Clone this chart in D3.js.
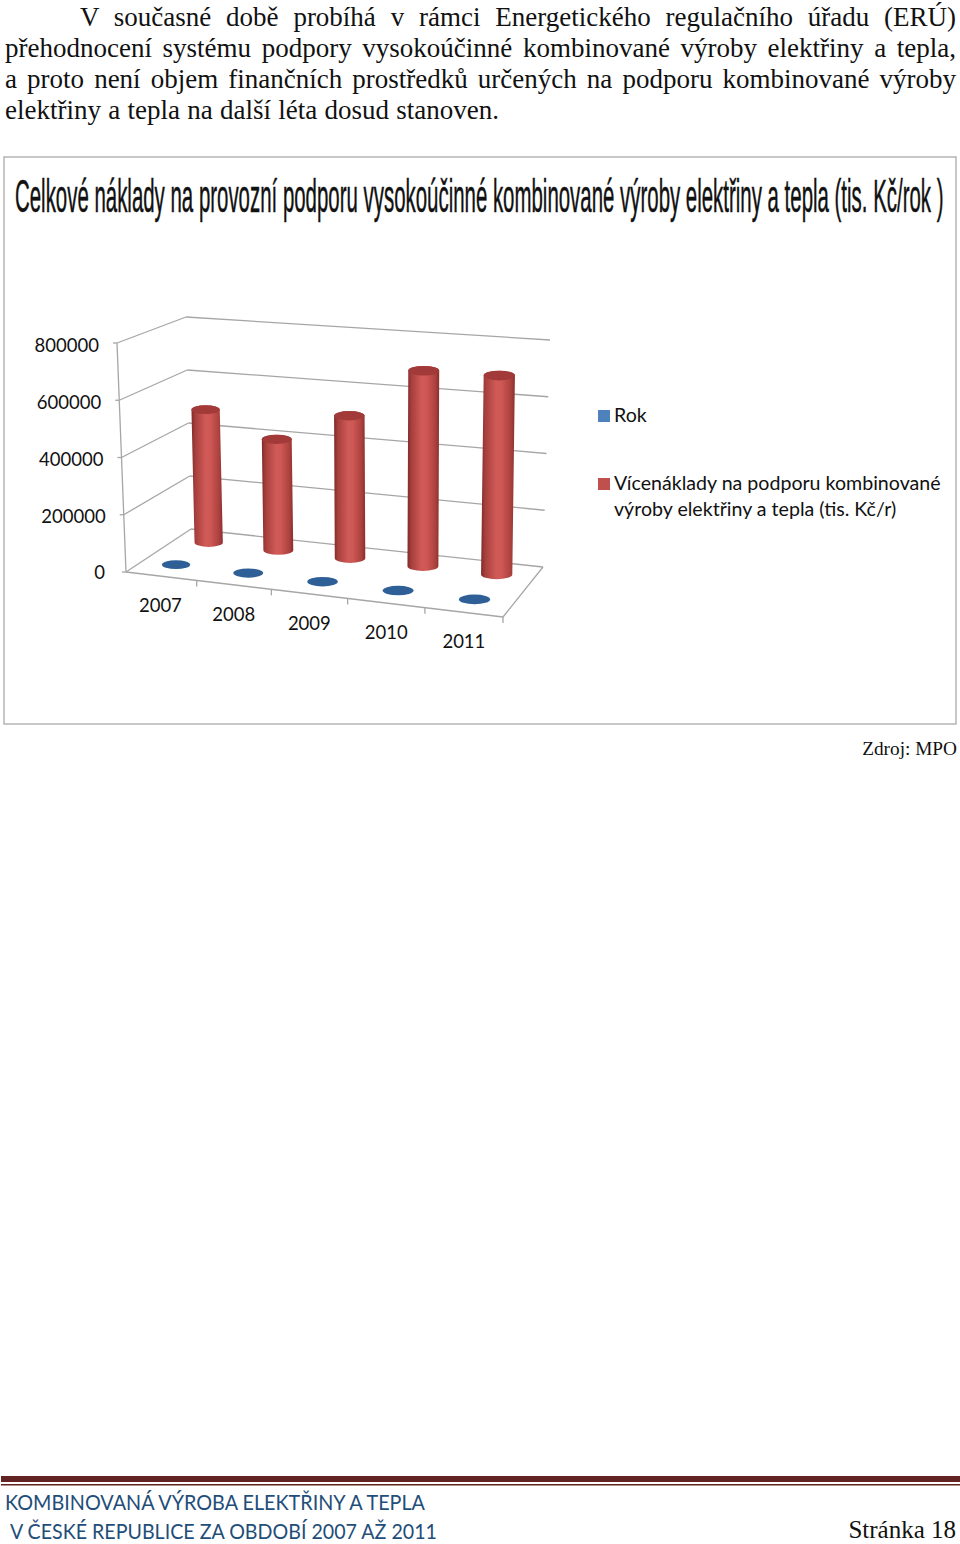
<!DOCTYPE html>
<html>
<head>
<meta charset="utf-8">
<script src="https://cdn.jsdelivr.net/npm/d3@7"></script>
<style>
  html, body { margin: 0; padding: 0; background: white; }
  svg { display: block; }
</style>
</head>
<body>
<svg id="svg" width="960" height="1544"></svg>
<script>
// chart data
var years = ["2007", "2008", "2009", "2010", "2011"];
var rokValues = [2007, 2008, 2009, 2010, 2011];
var vicenakladyValues = [490000, 405000, 515000, 700000, 705000];
var valueTicks = [0, 200000, 400000, 600000, 800000];
var legendRok = ["Rok"];
var legendVice = ["Vícenáklady na podporu kombinované", "výroby elektřiny a tepla (tis. Kč/r)"];
var chartTitle = "Celkové náklady na provozní podporu vysokoúčinné kombinované výroby elektřiny a tepla (tis. Kč/rok )";

// page text
var bodyLines = [
  "V současné době probíhá v rámci Energetického regulačního úřadu (ERÚ)",
  "přehodnocení systému podpory vysokoúčinné kombinované výroby elektřiny a tepla,",
  "a proto není objem finančních prostředků určených na podporu kombinované výroby",
  "elektřiny a tepla na další léta dosud stanoven."
];
var sourceText = "Zdroj: MPO";
var footerLines = ["KOMBINOVANÁ VÝROBA ELEKTŘINY A TEPLA", "V ČESKÉ REPUBLICE ZA OBDOBÍ 2007 AŽ 2011"];
var pageText = "Stránka 18";

const svg = d3.select("#svg");
const serif = "'Liberation Serif', serif";
const calibriLike = "Lato, sans-serif";
const gridColor = "#a6a6a6";

// body paragraph, justified with word spacing
var bodyX = [80, 5, 5, 5];
bodyLines.forEach(function(line, i) {
  var t = svg.append("text")
    .attr("x", bodyX[i])
    .attr("y", 26 + i * 31)
    .style("font-family", serif)
    .style("font-size", "27px")
    .style("fill", "#111")
    .text(line);
  var target = i < 3 ? 956 - bodyX[i] : 494;
  var extra = target - t.node().getComputedTextLength();
  t.style("word-spacing", (extra / (line.split(" ").length - 1)) + "px");
});

// chart frame
svg.append("rect")
  .attr("x", 4).attr("y", 157)
  .attr("width", 952).attr("height", 567)
  .attr("fill", "white")
  .attr("stroke", "#b5b5b5")
  .attr("stroke-width", 1.5);

// title is squeezed sideways like the stretched image in the original
var titleText = svg.append("text")
  .style("font-family", "'Liberation Sans', sans-serif")
  .style("font-size", "47px")
  .style("fill", "#111")
  .style("stroke", "#111")
  .style("stroke-width", "0.5px")
  .text(chartTitle);
titleText.attr("transform", "translate(15,212) scale(" + (929 / titleText.node().getComputedTextLength()) + ",1)");

// 3d box corners
var floorFL = [126, 572], floorFR = [503, 617], floorBL = [191, 529], floorBR = [543, 567];
var topFL = [117, 343], topFR = [497, 391], topBL = [186, 317], topBR = [550, 340];

var uScale = d3.scalePow().exponent(1.04).domain([0, years.length]).range([0, 1]);
var hScale = d3.scaleLinear().domain([0, 800000]).range([0, 1]);
var redDepth = 0.77, blueDepth = 0.25;

function mix(a, b, k) {
  return [a[0] + (b[0] - a[0]) * k, a[1] + (b[1] - a[1]) * k];
}
// u = category position, v = depth 0 front to 1 back, value = height
function project(u, v, value) {
  var k = uScale(u);
  var bottom = mix(mix(floorFL, floorFR, k), mix(floorBL, floorBR, k), v);
  var top = mix(mix(topFL, topFR, k), mix(topBL, topBR, k), v);
  return mix(bottom, top, hScale(value));
}
function line(a, b) {
  svg.append("line")
    .attr("x1", a[0]).attr("y1", a[1])
    .attr("x2", b[0]).attr("y2", b[1])
    .attr("stroke", gridColor)
    .attr("stroke-width", 1.3);
}

// walls and floor
valueTicks.forEach(function(d) {
  var left = project(0, 0, d), back = project(0, 1, d);
  line(left, back);
  line(back, project(years.length, 1, d));
  line(left, [left[0] - 4, left[1]]);
  svg.append("text")
    .attr("x", left[0] - (d == 0 ? 21 : 18))
    .attr("y", left[1] + (d > 0 ? 8.5 : 7))
    .attr("text-anchor", "end")
    .style("font-family", calibriLike)
    .style("font-size", "18.5px")
    .style("fill", "#111")
    .text(d);
});
line(project(0, 0, 0), project(0, 0, 800000));
line(project(0, 0, 0), project(years.length, 0, 0));
line(project(years.length, 0, 0), project(years.length, 1, 0));

d3.range(years.length + 1).forEach(function(i) {
  var p = project(i, 0, 0);
  if (i > 0) line(p, [p[0], p[1] + 6]);
});

years.forEach(function(y, i) {
  var p = project(i + 0.5, 0, 0);
  svg.append("text")
    .attr("x", p[0])
    .attr("y", p[1] + 36)
    .attr("text-anchor", "middle")
    .style("font-family", calibriLike)
    .style("font-size", "18.5px")
    .style("fill", "#111")
    .text(y);
});

// cylinder shading
var grad = svg.append("defs").append("linearGradient").attr("id", "redCyl");
[[0, "#7e2a28"], [0.12, "#a63f3c"], [0.45, "#d05a57"], [0.6, "#cf5855"], [0.88, "#ab413e"], [1, "#8a2e2c"]].forEach(function(s) {
  grad.append("stop").attr("offset", s[0]).attr("stop-color", s[1]);
});

function radii(i) {
  var rx = 0.2 * (project(i + 1, 0, 0)[0] - project(i, 0, 0)[0]);
  return [rx, rx * 0.31];
}

// blue series is almost flat because the values are the years
svg.selectAll("ellipse.rok")
  .data(rokValues)
  .enter().append("ellipse")
  .attr("class", "rok")
  .attr("cx", function(d, i) { return project(i + 0.5, blueDepth, d)[0]; })
  .attr("cy", function(d, i) { return project(i + 0.5, blueDepth, d)[1]; })
  .attr("rx", function(d, i) { return radii(i)[0]; })
  .attr("ry", function(d, i) { return radii(i)[1]; })
  .attr("fill", "#2f5f97");

var bars = svg.selectAll("g.bar")
  .data(vicenakladyValues)
  .enter().append("g")
  .attr("class", "bar");

bars.append("path")
  .attr("fill", "url(#redCyl)")
  .attr("d", function(d, i) {
    var r = radii(i), a = project(i + 0.5, redDepth, 0), b = project(i + 0.5, redDepth, d);
    return "M" + (b[0] - r[0]) + "," + b[1] +
      "L" + (a[0] - r[0]) + "," + a[1] +
      "A" + r[0] + "," + r[1] + " 0 0 0 " + (a[0] + r[0]) + "," + a[1] +
      "L" + (b[0] + r[0]) + "," + b[1] +
      "A" + r[0] + "," + r[1] + " 0 0 0 " + (b[0] - r[0]) + "," + b[1] + "Z";
  });

bars.append("ellipse")
  .attr("cx", function(d, i) { return project(i + 0.5, redDepth, d)[0]; })
  .attr("cy", function(d, i) { return project(i + 0.5, redDepth, d)[1]; })
  .attr("rx", function(d, i) { return radii(i)[0]; })
  .attr("ry", function(d, i) { return radii(i)[1]; })
  .attr("fill", "#a13a38");

// legend
function legend(color, lines, y) {
  svg.append("rect")
    .attr("x", 598).attr("y", y - 12)
    .attr("width", 12).attr("height", 12)
    .attr("fill", color);
  lines.forEach(function(l, i) {
    svg.append("text")
      .attr("x", 614)
      .attr("y", y + i * 26)
      .style("font-family", calibriLike)
      .style("font-size", "19.6px")
      .style("fill", "#111")
      .text(l);
  });
}
legend("#4f81bd", legendRok, 422);
legend("#c0504d", legendVice, 490);

svg.append("text")
  .attr("x", 957)
  .attr("y", 755)
  .attr("text-anchor", "end")
  .style("font-family", serif)
  .style("font-size", "19.3px")
  .style("fill", "#111")
  .text(sourceText);

// footer
svg.append("rect").attr("x", 1).attr("y", 1476).attr("width", 959).attr("height", 6).attr("fill", "#622423");
svg.append("rect").attr("x", 1).attr("y", 1484).attr("width", 959).attr("height", 1.5).attr("fill", "#622423");

var footerX = [5, 10], footerW = [420, 427];
footerLines.forEach(function(l, i) {
  svg.append("text")
    .attr("x", footerX[i])
    .attr("y", 1510 + i * 28.5)
    .attr("textLength", footerW[i])
    .attr("lengthAdjust", "spacingAndGlyphs")
    .style("font-family", calibriLike)
    .style("font-size", "22px")
    .style("fill", "#1f4e79")
    .text(l);
});

svg.append("text")
  .attr("x", 956)
  .attr("y", 1538)
  .attr("text-anchor", "end")
  .style("font-family", serif)
  .style("font-size", "25px")
  .style("fill", "#111")
  .text(pageText);
</script>
</body>
</html>
